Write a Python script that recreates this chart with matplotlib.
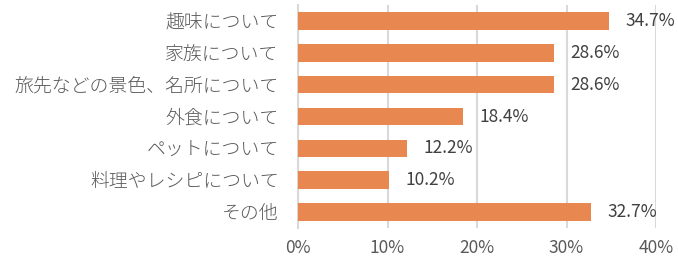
import numpy as np
import matplotlib.pyplot as plt

plt.rcParams['font.family'] = ['Noto Sans CJK JP', 'DejaVu Sans']

# Data
categories = ['趣味について', '家族について', '旅先などの景色、名所について', '外食について',
              'ペットについて', '料理やレシピについて', 'その他']
values = [34.7, 28.6, 28.6, 18.4, 12.2, 10.2, 32.7]
xticks = [0, 10, 20, 30, 40]

bar_color = '#E8874F'
grid_color = '#D9D9D9'
text_color = '#595959'

fig = plt.figure(figsize=(6.78, 2.59), dpi=100)
ax = fig.add_axes([298 / 678, 1 - 228 / 259, 358 / 678, 223 / 259])

y = np.arange(len(categories))
ax.barh(y, values, height=0.55, color=bar_color, zorder=3)

for yi, v in zip(y, values):
    ax.annotate(f'{v:.1f}%', xy=(v, yi), xytext=(12, 0), textcoords='offset points',
                va='center', ha='left', fontsize=12.5, color='#404040', zorder=4)

ax.set_xlim(0, 40)
ax.set_ylim(len(categories) - 0.5, -0.5)
ax.set_xticks(xticks)
ax.set_xticklabels([f'{t}%' for t in xticks])
ax.set_yticks(y)
ax.set_yticklabels(categories, fontweight='light')

ax.grid(axis='x', color=grid_color, linewidth=1.5, zorder=0)
ax.tick_params(axis='both', length=0, colors=text_color)
ax.tick_params(axis='y', pad=14, labelsize=13.6)
ax.tick_params(axis='x', pad=8, labelsize=12.5)

for side in ['top', 'right', 'bottom']:
    ax.spines[side].set_visible(False)
ax.spines['left'].set_color(grid_color)
ax.spines['left'].set_linewidth(1.5)

fig.savefig('out.png', dpi=100)
